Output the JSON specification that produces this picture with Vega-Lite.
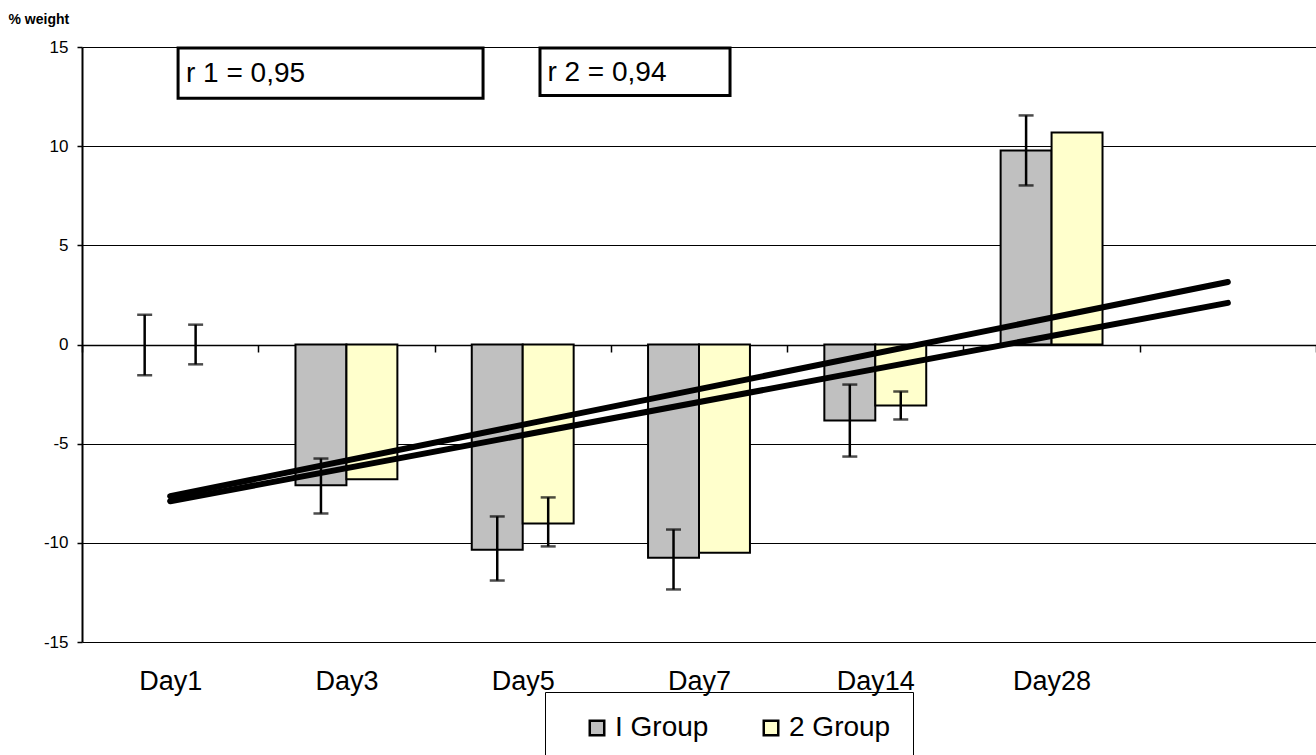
{
  "$schema": "https://vega.github.io/schema/vega-lite/v6.json",
  "width": 1234,
  "height": 595,
  "autosize": {"type": "none"},
  "padding": {"left": 82, "top": 47, "right": 0, "bottom": 113},
  "background": "white",
  "config": {
    "font": "Liberation Sans",
    "view": {"stroke": null},
    "axis": {"domainColor": "black", "tickColor": "black", "gridColor": "black", "labelColor": "black", "titleColor": "black", "labelFont": "Liberation Sans", "titleFont": "Liberation Sans"},
    "legend": {"labelFont": "Liberation Sans", "labelColor": "black"}
  },
  "datasets": {
    "bars": [
      {"day": "Day3", "group": "I Group", "value": -7.1},
      {"day": "Day3", "group": "2 Group", "value": -6.8},
      {"day": "Day5", "group": "I Group", "value": -10.35},
      {"day": "Day5", "group": "2 Group", "value": -9.03},
      {"day": "Day7", "group": "I Group", "value": -10.75},
      {"day": "Day7", "group": "2 Group", "value": -10.5},
      {"day": "Day14", "group": "I Group", "value": -3.83},
      {"day": "Day14", "group": "2 Group", "value": -3.08},
      {"day": "Day28", "group": "I Group", "value": 9.78},
      {"day": "Day28", "group": "2 Group", "value": 10.69}
    ],
    "errors": [
      {"day": "Day1", "group": "I Group", "lo": -1.55, "hi": 1.5},
      {"day": "Day1", "group": "2 Group", "lo": -1.0, "hi": 1.0},
      {"day": "Day3", "group": "I Group", "lo": -8.52, "hi": -5.75},
      {"day": "Day5", "group": "I Group", "lo": -11.9, "hi": -8.67},
      {"day": "Day5", "group": "2 Group", "lo": -10.18, "hi": -7.71},
      {"day": "Day7", "group": "I Group", "lo": -12.35, "hi": -9.33},
      {"day": "Day14", "group": "I Group", "lo": -5.65, "hi": -2.02},
      {"day": "Day14", "group": "2 Group", "lo": -3.78, "hi": -2.37},
      {"day": "Day28", "group": "I Group", "lo": 8.02, "hi": 11.55}
    ],
    "trend": [
      {"series": "I Group", "day": "Day1", "value": -7.9},
      {"series": "I Group", "day": " ", "value": 2.1},
      {"series": "2 Group", "day": "Day1", "value": -7.65},
      {"series": "2 Group", "day": " ", "value": 3.15}
    ],
    "boxes": [
      {"label": "r 1 = 0,95", "x": 0.545, "x2": 2.275, "y": 14.95, "y2": 12.42, "tx": 0.59, "ty": 13.65},
      {"label": "r 2 = 0,94", "x": 2.598, "x2": 3.676, "y": 14.95, "y2": 12.55, "tx": 2.64, "ty": 13.7}
    ]
  },
  "layer": [
    {
      "layer": [
        {
          "data": {"name": "bars"},
          "mark": {"type": "bar", "stroke": "black", "strokeWidth": 2},
          "encoding": {
            "x": {
              "field": "day", "type": "nominal", "sort": null,
              "scale": {"domain": ["Day1", "Day3", "Day5", "Day7", "Day14", "Day28", " "], "paddingInner": 0, "paddingOuter": 0},
              "axis": {"orient": "bottom", "offset": -297, "title": null, "domain": true, "domainWidth": 1.5, "ticks": true, "tickBand": "extent", "tickSize": 7, "tickWidth": 1.5, "labelPadding": 316, "labelFontSize": 27, "labelAngle": 0, "grid": false}
            },
            "xOffset": {"field": "group", "type": "nominal", "sort": null, "scale": {"domain": ["I Group", "2 Group"], "paddingInner": 0, "paddingOuter": 0.73}},
            "y": {
              "field": "value", "type": "quantitative",
              "scale": {"domain": [-15, 15], "nice": false},
              "axis": {"title": "% weight", "titleAngle": 0, "titleAlign": "left", "titleBaseline": "top", "titleX": -74, "titleY": -35, "titleFontSize": 14, "titleFontWeight": "bold", "values": [-15, -10, -5, 0, 5, 10, 15], "labelExpr": "'' + datum.value", "grid": true, "gridWidth": 1.2, "domainWidth": 2, "tickSize": 5, "tickWidth": 1.5, "labelPadding": 9, "labelFontSize": 17}
            },
            "fill": {
              "field": "group", "type": "nominal",
              "scale": {"domain": ["I Group", "2 Group"], "range": ["#c0c0c0", "#ffffcc"]},
              "legend": {"orient": "none", "legendX": 463, "legendY": 645, "direction": "horizontal", "title": null, "symbolType": "square", "symbolSize": 210, "symbolStrokeColor": "black", "symbolStrokeWidth": 2.5, "labelFontSize": 28, "strokeColor": "black", "padding": 22, "columnPadding": 32, "symbolOffset": 16, "labelOffset": 4}
            }
          }
        },
        {
          "data": {"name": "errors"},
          "mark": {"type": "rule", "stroke": "black", "strokeWidth": 2.5},
          "encoding": {
            "x": {"field": "day", "type": "nominal", "sort": null},
            "xOffset": {"field": "group", "type": "nominal", "sort": null},
            "y": {"field": "lo", "type": "quantitative"},
            "y2": {"field": "hi"}
          }
        },
        {
          "data": {"name": "errors"},
          "mark": {"type": "tick", "color": "black", "size": 15, "thickness": 2.5, "orient": "horizontal"},
          "encoding": {
            "x": {"field": "day", "type": "nominal", "sort": null},
            "xOffset": {"field": "group", "type": "nominal", "sort": null},
            "y": {"field": "lo", "type": "quantitative"}
          }
        },
        {
          "data": {"name": "errors"},
          "mark": {"type": "tick", "color": "black", "size": 15, "thickness": 2.5, "orient": "horizontal"},
          "encoding": {
            "x": {"field": "day", "type": "nominal", "sort": null},
            "xOffset": {"field": "group", "type": "nominal", "sort": null},
            "y": {"field": "hi", "type": "quantitative"}
          }
        },
        {
          "data": {"name": "trend"},
          "mark": {"type": "line", "stroke": "black", "strokeWidth": 6, "strokeCap": "round"},
          "encoding": {
            "x": {"field": "day", "type": "nominal", "sort": null},
            "y": {"field": "value", "type": "quantitative"},
            "detail": {"field": "series"}
          }
        }
      ]
    },
    {
      "data": {"name": "boxes"},
      "layer": [
        {
          "mark": {"type": "rect", "fill": "white", "stroke": "black", "strokeWidth": 3},
          "encoding": {
            "x": {"field": "x", "type": "quantitative", "scale": {"domain": [0, 7], "nice": false, "zero": false}, "axis": null},
            "x2": {"field": "x2"},
            "y": {"field": "y", "type": "quantitative"},
            "y2": {"field": "y2"}
          }
        },
        {
          "mark": {"type": "text", "align": "left", "baseline": "middle", "fontSize": 28, "color": "black"},
          "encoding": {
            "x": {"field": "tx", "type": "quantitative"},
            "y": {"field": "ty", "type": "quantitative"},
            "text": {"field": "label"}
          }
        }
      ]
    }
  ],
  "resolve": {"scale": {"x": "independent"}}
}
